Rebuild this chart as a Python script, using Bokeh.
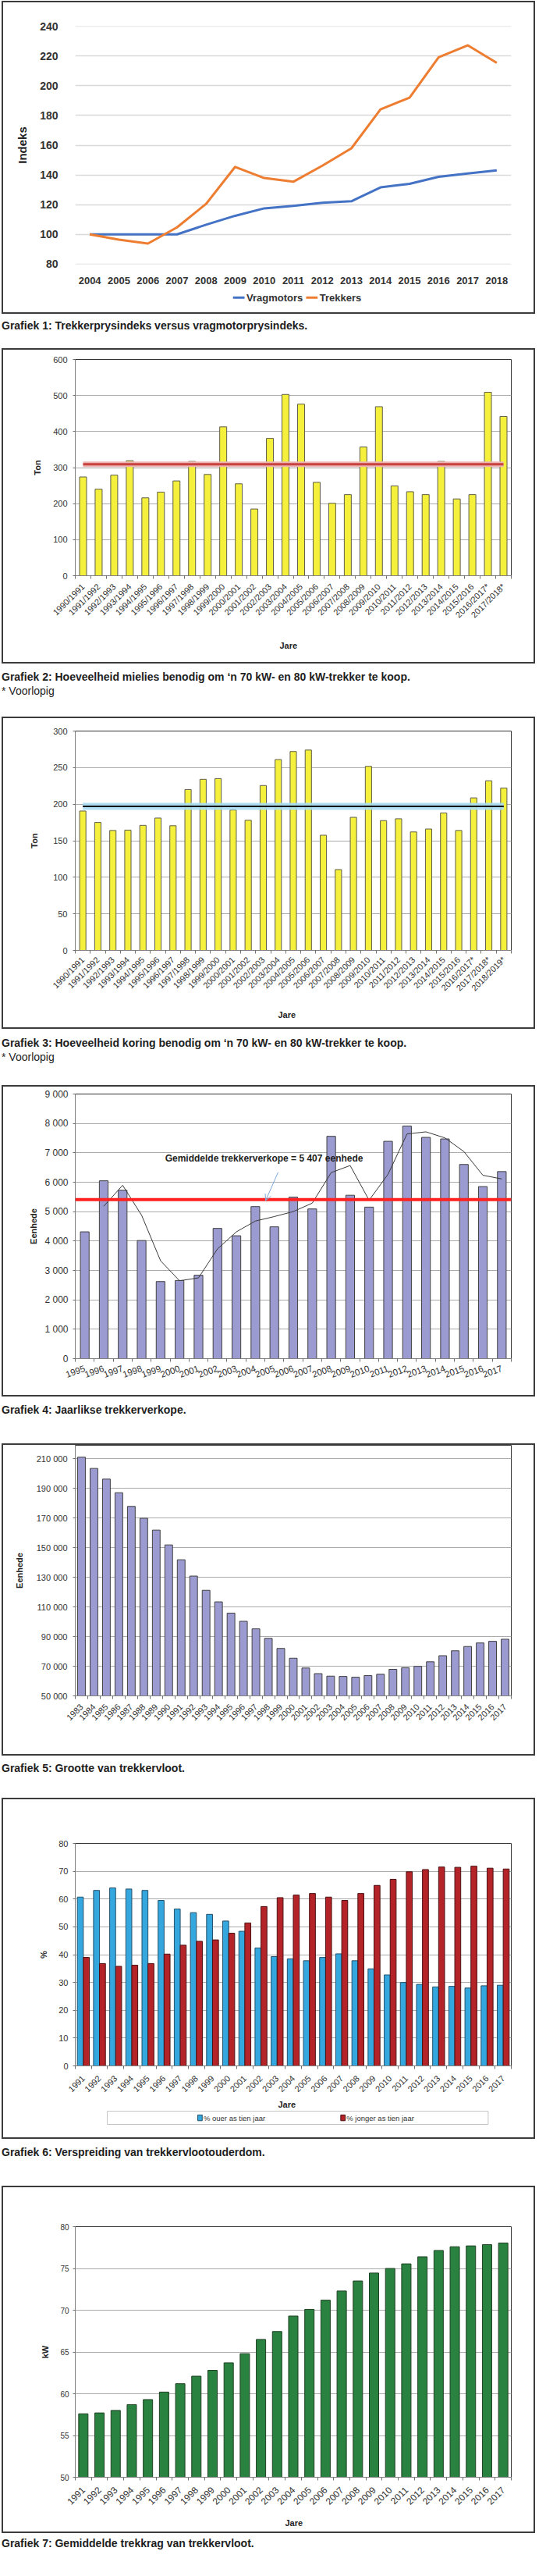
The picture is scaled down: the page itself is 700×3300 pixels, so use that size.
import math
from bokeh.plotting import figure
from bokeh.models import (FixedTicker, Div, Arrow, OpenHead, Label, Span, Title, BoxAnnotation,
                          ColumnDataSource)
from bokeh.layouts import column
from bokeh.embed import file_html
from bokeh.resources import INLINE
from bokeh.transform import dodge

# ---------------- data ----------------
years1 = [2004, 2005, 2006, 2007, 2008, 2009, 2010, 2011, 2012, 2013, 2014, 2015, 2016, 2017, 2018]
vragmotors = [100, 100, 100, 100, 106.5, 112.5, 117.5, 119.2, 121.3, 122.3, 131.6, 134.0, 138.7, 141.0, 143.0]
trekkers = [100, 96.4, 93.8, 104.7, 120.5, 145.4, 137.9, 135.4, 146.2, 157.9, 184.1, 192.0, 219.1, 227.2, 215.4]
legend1 = ["Vragmotors", "Trekkers"]
y1_ticks = [80, 100, 120, 140, 160, 180, 200, 220, 240]

seasons2 = ["1990/1991", "1991/1992", "1992/1993", "1993/1994", "1994/1995", "1995/1996", "1996/1997",
            "1997/1998", "1998/1999", "1999/2000", "2000/2001", "2001/2002", "2002/2003", "2003/2004",
            "2004/2005", "2005/2006", "2006/2007", "2007/2008", "2008/2009", "2009/2010", "2010/2011",
            "2011/2012", "2012/2013", "2013/2014", "2014/2015", "2015/2016", "2016/2017*", "2017/2018*"]
maize_tons = [274, 240, 279, 319, 216, 232, 263, 317, 281, 413, 255, 185, 381, 503, 476, 259, 201, 225,
              357, 469, 249, 233, 225, 317, 213, 225, 509, 442]
maize_avg = 309
y2_ticks = [0, 100, 200, 300, 400, 500, 600]

seasons3 = ["1990/1991", "1991/1992", "1992/1993", "1993/1994", "1994/1995", "1995/1996", "1996/1997",
            "1997/1998", "1998/1999", "1999/2000", "2000/2001", "2001/2002", "2002/2003", "2003/2004",
            "2004/2005", "2005/2006", "2006/2007", "2007/2008", "2008/2009", "2009/2010", "2010/2011",
            "2011/2012", "2012/2013", "2013/2014", "2014/2015", "2015/2016", "2016/2017*", "2017/2018*",
            "2018/2019*"]
wheat_tons = [190.6, 175, 164, 164.5, 171, 181, 170.5, 220, 234, 235, 192, 178, 225.5, 261, 272, 274,
              157.5, 110.5, 182, 251.7, 177.5, 180, 162, 166, 188, 164, 208.6, 232, 222]
wheat_avg = 197
y3_ticks = [0, 50, 100, 150, 200, 250, 300]

years4 = ["1995", "1996", "1997", "1998", "1999", "2000", "2001", "2002", "2003", "2004", "2005", "2006",
          "2007", "2008", "2009", "2010", "2011", "2012", "2013", "2014", "2015", "2016", "2017"]
sales = [4313, 6049, 5727, 4018, 2622, 2658, 2837, 4430, 4179, 5172, 4483, 5494, 5092, 7562, 5557, 5154,
         7392, 7911, 7526, 7472, 6604, 5852, 6362]
trend_years = ["1996", "1997", "1998", "1999", "2000", "2001", "2002", "2003", "2004", "2005", "2006",
               "2007", "2008", "2009", "2010", "2011", "2012", "2013", "2014", "2015", "2016", "2017"]
sales_trend = [5181, 5897, 4876, 3329, 2649, 2747, 3731, 4313, 4680, 4832, 5002, 5289, 6327, 6568, 5387,
               6273, 7642, 7714, 7508, 7043, 6237, 6112]
sales_avg = 5407
avg_text = "Gemiddelde trekkerverkope = 5 407 eenhede"
y4_ticks = [0, 1000, 2000, 3000, 4000, 5000, 6000, 7000, 8000, 9000]

years5 = [str(y) for y in range(1983, 2018)]
fleet = [211000, 203400, 196200, 187000, 177800, 169800, 161800, 151800, 141800, 130800, 121200, 113400,
         105800, 100300, 95200, 88800, 82000, 75400, 68800, 65000, 63300, 63100, 62600, 63700, 64600,
         67900, 69000, 69900, 73000, 77100, 80400, 83300, 85700, 86800, 88200]
y5_ticks = [50000, 70000, 90000, 110000, 130000, 150000, 170000, 190000, 210000]

years6 = [str(y) for y in range(1991, 2018)]
older_pct = [60.7, 63.1, 64.0, 63.6, 63.1, 59.5, 56.4, 55.1, 54.5, 52.1, 48.4, 42.4, 39.3, 38.5, 37.8,
             39.0, 40.3, 37.8, 34.9, 32.7, 30.0, 29.3, 28.4, 28.6, 28.0, 28.8, 29.0]
younger_pct = [39.0, 36.8, 35.8, 36.2, 36.8, 40.2, 43.4, 44.8, 45.3, 47.7, 51.4, 57.3, 60.5, 61.4, 62.0,
               60.7, 59.5, 62.0, 64.9, 67.1, 69.8, 70.6, 71.5, 71.4, 71.8, 71.1, 70.8]
legend6 = ["% ouer as tien jaar", "% jonger as tien jaar"]
y6_ticks = [0, 10, 20, 30, 40, 50, 60, 70, 80]

years7 = [str(y) for y in range(1991, 2018)]
power_kw = [57.6, 57.7, 58.0, 58.7, 59.3, 60.2, 61.2, 62.1, 62.8, 63.7, 64.8, 66.5, 67.45, 69.3, 70.1,
            71.2, 72.3, 73.5, 74.45, 75.0, 75.55, 76.4, 77.15, 77.6, 77.7, 77.85, 78.05]
y7_ticks = [50, 55, 60, 65, 70, 75, 80]

captions = [
    ["Grafiek 1: Trekkerprysindeks versus vragmotorprysindeks."],
    ["Grafiek 2: Hoeveelheid mielies benodig om \u2018n 70 kW- en 80 kW-trekker te koop.", "* Voorlopig"],
    ["Grafiek 3: Hoeveelheid koring benodig om \u2018n 70 kW- en 80 kW-trekker te koop.", "* Voorlopig"],
    ["Grafiek 4: Jaarlikse trekkerverkope."],
    ["Grafiek 5: Grootte van trekkervloot."],
    ["Grafiek 6: Verspreiding van trekkervlootouderdom."],
    ["Grafiek 7: Gemiddelde trekkrag van trekkervloot."],
]

# ---------------- styles ----------------
SANS = "Liberation Sans"
INK = "#333333"
EDGE = "2px solid #3c3c3c"
BOX = {"border": EDGE, "box-sizing": "border-box"}
BOX_TOP = {"border-top": EDGE, "border-left": EDGE, "border-right": EDGE, "box-sizing": "border-box"}
BOX_BOTTOM = {"border-bottom": EDGE, "border-left": EDGE, "border-right": EDGE, "box-sizing": "border-box"}
YELLOW = "#F5F03C"
LAV = "#9B9BD2"
BLUE1 = "#4472C4"
ORANGE1 = "#ED7D31"
BLUE6 = "#35A7DF"
RED6 = "#B42328"
GREEN7 = "#2A8240"


def space_fmt(v):
    return f"{v:,}".replace(",", " ")


def make_fig(h, xr, yr, l, r, t, b, outline="#333333", styles=BOX):
    p = figure(width=684, height=h, x_range=xr, y_range=yr, output_backend="svg",
               toolbar_location=None, min_border_left=l, min_border_right=r,
               min_border_top=t, min_border_bottom=b, styles=styles, margin=(0, 0, 0, 2),
               background_fill_color="white", border_fill_color="white")
    p.outline_line_color = outline
    p.outline_line_width = 1
    return p


def legend_strip(h):
    # strip (inside the chart's box) that carries the legend; 1 unit = 1 px
    q = figure(width=684, height=h, x_range=(0, 680), y_range=(0, h - 2), output_backend="svg",
               toolbar_location=None, x_axis_type=None, y_axis_type=None,
               min_border_left=0, min_border_right=0, min_border_top=0, min_border_bottom=0,
               styles=BOX_BOTTOM, margin=(0, 0, 0, 2),
               background_fill_color="white", border_fill_color="white")
    q.outline_line_color = None
    q.grid.visible = False
    return q


def key(q, left, right, bottom, top, fill, line=None):
    q.add_layout(BoxAnnotation(left=left, right=right, bottom=bottom, top=top, fill_color=fill,
                               fill_alpha=1, line_color=line, line_alpha=1, line_width=1,
                               level="annotation"))


def key_label(q, x, y, text, size, bold):
    q.add_layout(Label(x=x, y=y, text=text, text_align="left", text_baseline="middle",
                       text_font=SANS, text_font_size=size,
                       text_font_style="bold" if bold else "normal", text_color=INK,
                       level="overlay"))


def cat_axis(p, labels, angle, size, standoff):
    n = len(labels)
    ax = p.xaxis[0]
    ax.ticker = FixedTicker(ticks=list(range(n)), minor_ticks=[i - 0.5 for i in range(n + 1)])
    ax.major_label_overrides = {i: s for i, s in enumerate(labels)}
    ax.major_tick_line_color = None
    ax.major_tick_out = 0
    ax.major_tick_in = 0
    ax.minor_tick_line_color = "#707070"
    ax.minor_tick_out = 4
    ax.minor_tick_in = 0
    ax.major_label_orientation = angle
    ax.major_label_text_font = SANS
    ax.major_label_text_font_size = size
    ax.major_label_text_color = INK
    ax.major_label_standoff = standoff
    ax.axis_line_color = "#808080"
    p.xgrid.grid_line_color = None


def val_axis(p, ticks, size, standoff, label, label_standoff, spaced=False):
    ay = p.yaxis[0]
    ay.ticker = FixedTicker(ticks=ticks)
    p.ygrid.ticker = ay.ticker
    if spaced:
        ay.major_label_overrides = {v: space_fmt(v) for v in ticks}
    ay.minor_tick_line_color = None
    ay.major_tick_out = 3
    ay.major_tick_in = 0
    ay.major_tick_line_color = "#707070"
    ay.axis_line_color = "#808080"
    ay.major_label_text_font = SANS
    ay.major_label_text_font_size = size
    ay.major_label_text_color = INK
    ay.major_label_standoff = standoff
    ay.axis_label = label
    ay.axis_label_text_font = SANS
    ay.axis_label_text_font_size = "11px"
    ay.axis_label_text_font_style = "bold"
    ay.axis_label_text_color = "#222222"
    ay.axis_label_standoff = label_standoff
    p.ygrid.grid_line_color = "#ABABAB"
    p.ygrid.grid_line_width = 1


def jare(p, offset, standoff):
    p.add_layout(Title(text="Jare", align="left", offset=offset, standoff=standoff,
                       vertical_align="middle", text_font=SANS, text_font_size="11px",
                       text_font_style="bold", text_color="#222222"), "below")


def caption(lines, h, pad):
    html = (f'<div style="padding-top:{pad}px;line-height:18px;color:#1e1e1e;'
            f'font-family:\'Liberation Sans\',sans-serif;">'
            f'<div style="font-size:14px;font-weight:bold;white-space:nowrap;">{lines[0]}</div>')
    if len(lines) > 1:
        html += f'<div style="font-size:14px;">{lines[1]}</div>'
    html += '</div>'
    return Div(text=html, width=684, height=h, margin=(0, 0, 0, 2))


# ---------------- chart 1 ----------------
p1 = make_fig(367, (2003.5, 2018.5), (79.9, 240.1), 92, 33, 30, 32, outline=None, styles=BOX_TOP)
p1.line(years1, vragmotors, line_color=BLUE1, line_width=3, line_join="round")
p1.line(years1, trekkers, line_color=ORANGE1, line_width=3, line_join="round")
p1.xaxis.ticker = FixedTicker(ticks=years1)
p1.yaxis.ticker = FixedTicker(ticks=y1_ticks)
p1.ygrid.ticker = p1.yaxis[0].ticker
p1.xgrid.grid_line_color = None
p1.ygrid.grid_line_color = "#D9D9D9"
p1.ygrid.grid_line_width = 1.3
for ax in p1.axis:
    ax.axis_line_color = None
    ax.major_tick_line_color = None
    ax.minor_tick_line_color = None
    ax.major_label_text_font = SANS
    ax.major_label_text_font_style = "bold"
    ax.major_label_text_color = INK
p1.xaxis.major_label_text_font_size = "13px"
p1.xaxis.major_label_standoff = 10
p1.yaxis.major_label_text_font_size = "14px"
p1.yaxis.major_label_standoff = 16
p1.yaxis.axis_label = "Indeks"
p1.yaxis.axis_label_text_font = SANS
p1.yaxis.axis_label_text_font_size = "15px"
p1.yaxis.axis_label_text_font_style = "bold"
p1.yaxis.axis_label_text_color = "#222222"
p1.yaxis.axis_label_standoff = 11

q1 = legend_strip(34)
key(q1, 246, 264, 18.5, 21.5, BLUE1)
key_label(q1, 267, 20, legend1[0], "13px", True)
key(q1, 360, 378, 18.5, 21.5, ORANGE1)
key_label(q1, 381, 20, legend1[1], "13px", True)

# ---------------- chart 2 ----------------
n2 = len(seasons2)
x2 = list(range(n2))
p2 = make_fig(404, (-0.5, n2 - 0.5), (0, 600), 63, 0, 12, 88)
p2.vbar(x=x2, top=maize_tons, width=0.45, fill_color=YELLOW, line_color="#5e5e4a", line_width=1)
p2.line([x2[0], x2[-1]], [maize_avg, maize_avg], line_color="#EDB4B4", line_width=7)
p2.line([x2[0], x2[-1]], [maize_avg, maize_avg], line_color="#C8423F", line_width=3)
cat_axis(p2, seasons2, math.pi / 4, "11px", 8)
val_axis(p2, y2_ticks, "11px", 7, "Ton", 11)
jare(p2, 262, 38)

# ---------------- chart 3 ----------------
n3 = len(seasons3)
x3 = list(range(n3))
p3 = make_fig(400, (-0.5, n3 - 0.5), (0, 300), 72, 11, 16, 97)
p3.vbar(x=x3, top=wheat_tons, width=0.42, fill_color=YELLOW, line_color="#5e5e4a", line_width=1)
p3.line([x3[0], x3[-1]], [wheat_avg, wheat_avg], line_color="#A9DBF2", line_width=9, line_alpha=0.9)
p3.line([x3[0], x3[-1]], [wheat_avg, wheat_avg], line_color="#111111", line_width=2)
cat_axis(p3, seasons3, math.pi / 4, "11px", 6)
val_axis(p3, y3_ticks, "11px", 7, "Ton", 15)
jare(p3, 260, 28)

# ---------------- chart 4 ----------------
n4 = len(years4)
x4 = list(range(n4))
p4 = make_fig(399, (-0.5, n4 - 0.5), (0, 9000), 60, 0, 9, 51)
p4.vbar(x=x4, top=sales, width=0.46, fill_color=LAV, line_color="#404040", line_width=1)
p4.add_layout(Span(location=sales_avg, dimension="width", line_color="#FF2020", line_width=4))
p4.line([years4.index(y) for y in trend_years], sales_trend, line_color="#3a3a3a", line_width=1)
p4.add_layout(Arrow(end=OpenHead(size=8, line_color="#7FA7D6", line_width=1),
                    x_start=10.2, y_start=6340, x_end=9.54, y_end=5373,
                    line_color="#7FA7D6", line_width=1))
p4.add_layout(Label(x=9.46, y=6797, text=avg_text, text_align="center", text_baseline="middle",
                    text_font=SANS, text_font_style="bold", text_font_size="12px",
                    text_color="#1e1e1e"))
cat_axis(p4, years4, 0.35, "11.5px", 8)
val_axis(p4, y4_ticks, "12px", 6, "Eenhede", 5, spaced=True)

# ---------------- chart 5 ----------------
n5 = len(years5)
x5 = list(range(n5))
p5 = make_fig(400, (-0.5, n5 - 0.5), (50000, 219000), 79, 0, 0, 79)
p5.vbar(x=x5, top=fleet, width=0.62, bottom=50000, fill_color=LAV, line_color="#404040", line_width=1)
cat_axis(p5, years5, math.pi / 4, "11px", 8)
val_axis(p5, y5_ticks, "11px", 7, "Eenhede", 13, spaced=True)

# ---------------- chart 6 ----------------
n6 = len(years6)
src6 = ColumnDataSource(dict(x=list(range(n6)), older=older_pct, younger=younger_pct))
p6 = make_fig(399, (-0.5, n6 - 0.5), (0, 80), 54, 8, 56, 54, styles=BOX_TOP)
p6.vbar(x=dodge("x", -0.185), top="older", width=0.37, source=src6,
        fill_color=BLUE6, line_color="#24506a", line_width=1)
p6.vbar(x=dodge("x", 0.185), top="younger", width=0.37, source=src6,
        fill_color=RED6, line_color="#4a1012", line_width=1)
cat_axis(p6, years6, math.pi / 4, "11px", 10)
val_axis(p6, y6_ticks, "11px", 6, "%", 10)
jare(p6, 260, 4)

q6 = legend_strip(38)
q6.add_layout(BoxAnnotation(left=50, right=644, bottom=18, top=34, fill_color="white", fill_alpha=1,
                            line_color="#C4C4C4", line_alpha=1, line_width=1, level="underlay"))
key(q6, 191, 198, 22.5, 29.5, BLUE6, "#24506a")
key_label(q6, 200, 26, legend6[0], "9.5px", False)
key(q6, 414, 421, 22.5, 29.5, RED6, "#4a1012")
key_label(q6, 423, 26, legend6[1], "9.5px", False)

# ---------------- chart 7 ----------------
n7 = len(years7)
x7 = list(range(n7))
p7 = make_fig(445, (-0.5, n7 - 0.5), (50, 80), 44, 7, 50, 70)
p7.vbar(x=x7, top=power_kw, bottom=50, width=0.58, fill_color=GREEN7, line_color="#1d3f22", line_width=1)
cat_axis(p7, years7, math.pi / 4, "12px", 10)
val_axis(p7, y7_ticks, "10px", 5, "kW", 10)
jare(p7, 269, 18)

# ---------------- layout ----------------
p1.margin = (1, 0, 0, 2)
layout = column(
    p1, q1, caption(captions[0], 44, 6),
    p2, caption(captions[1], 68, 8),
    p3, caption(captions[2], 72, 9),
    p4, caption(captions[3], 60, 8),
    p5, caption(captions[4], 54, 7),
    p6, q6, caption(captions[5], 60, 8),
    p7, caption(captions[6], 37, 4),
    spacing=0,
)

with open("out.html", "w") as f:
    f.write(file_html(layout, INLINE))
